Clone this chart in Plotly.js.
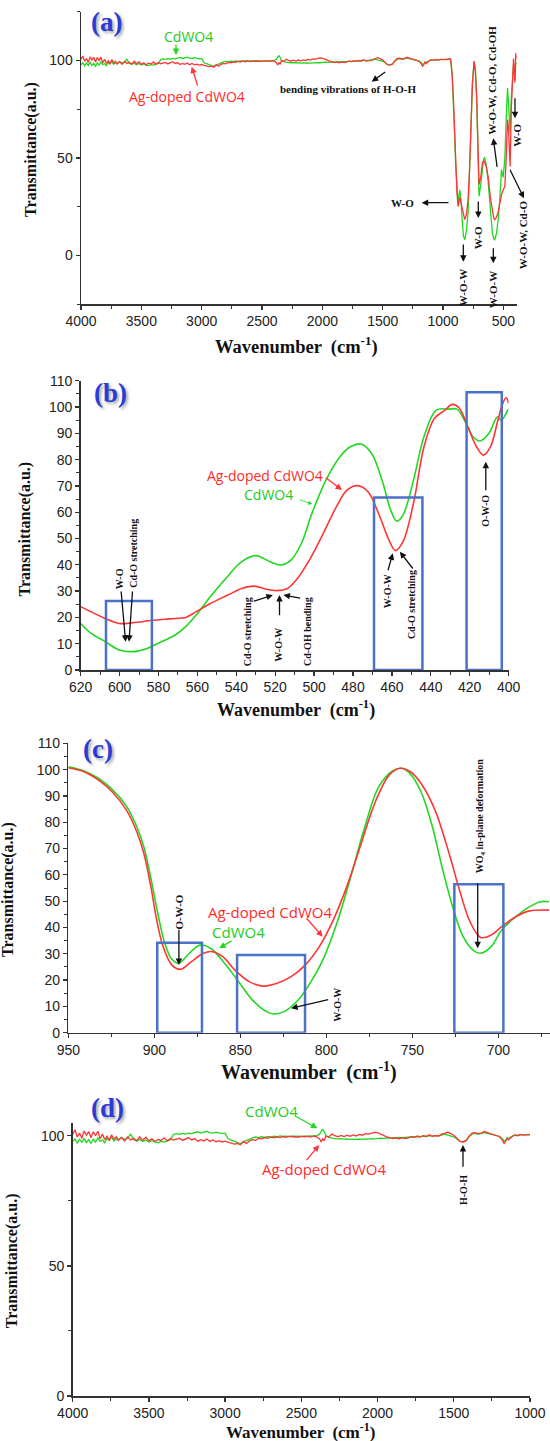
<!DOCTYPE html>
<html><head><meta charset="utf-8">
<script src="https://cdn.plot.ly/plotly-3.0.1.min.js"></script>
<style>html,body{margin:0;padding:0;background:#fff}#plot{width:550px;height:1441px}</style>
</head><body><div id="plot"></div>
<script>
// ---------- DATA ----------
// Panels (a) and (d): wavenumber grid 4000 -> 1000 cm-1
const wnHi = [4000,3985,3970,3955,3940,3925,3910,3895,3880,3865,3850,3835,3820,3805,3790,3775,3760,3745,3730,3715,3700,
3680,3660,3640,3620,3600,3580,3560,3540,3520,3500,3480,3460,3440,3420,3400,3380,3360,3340,3320,3300,3280,3260,3240,3220,3200,3180,3160,3140,3120,3100,3080,3060,3040,3020,3000,2980,2960,2940,2920,2900,2880,2860,2840,2820,2800,2780,2760,2740,2720,2700,2680,2660,2640,2620,2600,2580,2560,2540,2520,2500,2480,2460,2440,2420,2400,
2380,2370,2360,2350,2340,
2320,2300,2280,2260,2240,2220,2200,2180,2160,2140,2120,2100,2080,2060,2040,2020,2000,1980,1960,1940,1920,1900,1880,1860,1840,1820,1800,1780,1760,1740,1720,1700,1680,1660,1640,1620,1600,1580,1560,1540,1520,1500,1480,1460,1440,1420,1400,1380,1360,1340,1320,1300,1280,1260,1240,1220,1200,1180,
1170,1160,1150,1140,
1120,1100,1080,1060,1040,1020,1000];
const agHi = [100.5,102.3,99.5,101.0,99.0,101.8,100.2,101.6,99.2,101.5,100.0,101.7,98.8,100.6,98.5,99.8,98.2,100.4,98.6,99.6,98.4,
99.3,98.0,99.5,98.4,99.0,98.1,99.6,98.3,99.4,98.0,98.8,97.8,98.6,98.2,99.2,98.0,98.9,98.3,98.6,99.0,98.2,98.8,99.3,98.4,98.9,97.9,98.5,98.0,98.7,97.8,98.4,97.7,98.1,97.6,97.9,97.5,97.2,96.8,97.0,96.5,97.8,97.0,98.0,98.5,98.2,99.0,98.8,99.3,99.0,99.5,99.2,99.6,99.3,99.7,99.4,99.8,99.5,99.7,99.4,99.8,99.6,99.8,99.5,99.9,99.6,
98.8,97.6,98.9,98.0,99.8,
99.5,100.6,100.0,99.6,100.1,99.7,100.2,99.8,100.3,99.9,100.5,100.2,100.8,100.6,101.0,101.3,101.2,100.6,100.2,99.6,99.3,98.9,99.2,98.8,99.3,98.9,99.1,99.6,99.4,99.8,99.6,100.0,99.7,100.4,99.8,100.0,99.9,100.6,100.9,101.4,100.8,100.2,99.0,97.8,97.6,98.0,99.8,101.0,101.2,100.8,101.0,101.6,101.2,100.8,100.5,100.2,99.6,98.2,
97.0,97.8,99.0,98.4,
99.6,100.2,100.0,100.5,100.2,100.4,100.3];
const cdHi = [97.8,98.8,97.2,98.6,97.5,99.0,97.4,98.5,97.0,98.7,97.6,99.2,97.8,98.4,97.3,99.0,98.2,99.5,98.0,98.8,98.1,
99.4,98.6,99.0,100.6,98.5,98.0,98.6,97.8,98.4,97.6,98.2,97.5,97.3,97.8,97.6,98.0,98.4,100.4,100.8,100.5,100.9,100.6,101.0,100.8,101.2,101.5,101.0,101.3,101.7,101.2,101.0,101.4,101.0,100.8,101.0,98.8,98.3,97.8,97.4,97.0,97.6,98.2,98.7,99.2,99.5,99.3,99.6,99.4,99.7,99.5,99.8,99.6,99.9,99.7,99.8,99.6,99.9,99.7,99.8,99.6,99.8,99.7,99.9,99.8,100.0,
100.6,101.8,102.4,101.6,100.2,
99.4,99.0,98.9,98.8,98.9,98.7,98.8,98.6,98.7,98.6,98.7,98.6,98.8,98.7,98.9,98.8,99.0,99.1,99.0,99.2,99.1,99.3,99.2,99.4,99.3,99.4,99.5,99.6,99.5,99.7,99.6,99.8,99.7,100.0,99.8,100.0,99.9,100.3,100.6,100.2,100.0,99.6,98.8,97.8,97.7,98.2,99.5,100.6,100.9,100.6,100.8,101.2,100.9,100.6,100.3,100.0,99.8,98.8,
98.0,98.2,99.2,99.0,
99.8,100.3,100.1,100.4,100.3,100.5,100.5];
// Panel (a) fingerprint region below 1000 cm-1
const wnLo = [980,960,945,937,925,914,905,895,885,876,868,860,852,845,832,820,806,793,782,771,757,743,732,721,711,702,688,674,664,655,641,627,609,591,580,572,558,544,530,516,502,488,477,466,459,453,448,444,435,425,416,410,405,400,397,392];
const agLo = [100.4,100.6,100.9,100.5,93,80,63,45.6,32,25,28,30,27,25,20,18.3,21,28.6,42,62.8,88,99.5,94,80,55,36.3,40,47.4,48.5,47.9,45,40.5,30,21.9,19,18.3,19.5,22,27,31,33.5,35.4,50,69.6,66,59,52,45.6,75,93.5,101,95,88.5,98,103.8,101];
const cdLo = [100.2,100.5,100.8,100.3,93,80,63,46,33,27,31,33.5,28,20,10,8,13,21.8,38,61,88,99.5,95,80,52,30.3,36,45,49.5,50,46,38,22,11,8.5,8,11,18,28.6,44,40,50,70,85.8,79,71,66,63,80,92,98,94,90,96,99,98];

// Panel (b): 620 -> 400 cm-1
const wnB_ag = [620,607.4,600.2,593,584,576.8,571.4,566,560.6,553.3,544.3,537.2,530.8,524.5,519.1,513.7,509.2,502.9,495.7,488.5,483.1,477.7,472.3,466.9,461.5,458.2,454.3,448.9,443.5,438.1,432.7,429,425.5,421,416.5,412.9,409.3,405.7,403,401.2,400];
const agB = [24.1,19.6,17.7,18,18.8,19.3,19.6,20,22.2,25.3,28.5,31,31.9,30.7,30.2,31,34.2,41.2,51.3,62.1,68.4,70.1,67.8,59.6,49.4,45.4,48.8,63.4,84.9,95.7,98.8,101,99.7,92.5,84.9,81.7,84.9,94.4,101.4,103.5,101.4];
const wnB_cd = [620,614.6,607.4,600.2,593,585.8,580.4,571.4,566,560.6,553.3,546.1,537.2,530,522.7,517.3,511.9,506.5,501.1,493.9,486.7,481.3,475.9,470.5,465.1,460.6,457.5,454.3,448.9,443.5,437.2,430.9,426.4,421.9,418.3,414.6,410.1,405.7,403.8,400.2];
const cdB = [17.7,13.9,10.8,7.6,7.0,8.2,10.1,13.3,16.5,20.9,27.9,34.2,41.2,43.5,41.2,39.9,41.8,48.2,59.6,72.2,81.1,84.9,85.9,82.4,72.2,60.8,56.6,58.9,72.2,88.7,98.8,99.2,99.1,93.8,88.7,87.1,90,96.3,95,99.2];
const boxB_from = [607, 469.2, 421.6];
const boxB_to   = [583.4, 444.3, 403.5];
const boxB_top  = [26.2, 65.6, 105.6];

// Panel (c): 950 -> 670 cm-1
const wnC_ag = [950,940.8,932.6,924.5,916.3,910.2,906.1,902,899,894.9,889.8,884.7,878.5,871.4,866.3,860.2,853.1,844.9,836.7,828.6,820.5,812.3,804.1,796,787.8,779.7,771.5,763.4,757.2,751.1,745,736.9,728.7,722.6,716.5,710.3,704.2,698.1,689.9,681.8,670.6];
const agC = [100.7,99.2,96.1,91.6,84.7,76.4,68.2,55.5,44.1,32.7,25.7,24.1,27,30.2,30.8,28.9,23.8,19.4,17.7,18.8,21.3,25.7,32.7,42.8,56.1,72,87.8,98,100.5,99.2,94.8,84.7,68.2,54.2,42.2,36.2,37.1,40.3,44.1,46.3,46.6];
const wnC_cd = [950,940.8,932.6,924.5,916.3,910.2,906.1,902,898,893.9,889.8,885.7,879.6,873.5,867.3,859.2,851,842.9,834.7,830.6,824.5,816.4,810.2,802.1,793.9,785.8,777.6,769.5,761.3,756.2,751.1,745,738.9,732.8,726.6,720.5,714.4,710.3,704.2,698.1,689.9,681.8,675.6,670.6];
const cdC = [101.1,99.5,96.7,92.5,86.2,78.3,70.7,58.7,45.4,34,27.9,26.4,30.2,33.3,32.1,26.4,19.4,12.4,8,7.1,8,12.4,18.1,27.6,41.6,59.3,78.3,93.5,99.6,100.5,98.3,91.6,79.6,63.1,47.9,36.5,31.2,30.2,32.7,39,44.1,47.9,49.8,49.8];
const boxC_from = [898.3, 851.9, 725.6];
const boxC_to   = [872.3, 812.4, 697.1];
const boxC_top  = [34.2, 29.5, 56.4];

const seriesNames = ['CdWO4', 'Ag-doped CdWO4'];

// ---------- STYLE ----------
const W = 550, H = 1441;
const GREEN = '#1fd81f', RED = '#ff3535', BLUE = '#4a72c8';
const px = v => v / W, py = v => 1 - v / H;

const base = {
  showline: true, linecolor: '#333', linewidth: 1.5, mirror: false,
  ticks: 'outside', ticklen: 4, tickwidth: 1.3, tickcolor: '#333',
  showgrid: false, zeroline: false, tickmode: 'linear', fixedrange: true,
  ticklabelstandoff: 0,
  tickfont: {family: 'Liberation Sans, Arial, sans-serif', size: 14, color: '#222'}
};
const minor = d => ({dtick: d, ticks: 'outside', ticklen: 3, tickwidth: 1, tickcolor: '#333'});
const ax = e => Object.assign({}, base, e);

const layout = {
  width: W, height: H, margin: {l: 0, r: 0, t: 0, b: 0},
  paper_bgcolor: '#fff', plot_bgcolor: 'rgba(0,0,0,0)', showlegend: false,
  xaxis:  ax({domain: [px(81), px(516.7)], range: [4000, 390], tick0: 0, dtick: 500, minor: minor(250), anchor: 'y'}),
  yaxis:  ax({domain: [py(304), py(11.7)], range: [-25, 125], tick0: 0, dtick: 50, minor: minor(25), anchor: 'x'}),
  xaxis2: ax({domain: [px(80.7), px(508.6)], range: [620, 400], tick0: 0, dtick: 20, minor: minor(10), anchor: 'y2'}),
  yaxis2: ax({domain: [py(670), py(380.7)], range: [0, 110], tick0: 0, dtick: 10, minor: minor(5), anchor: 'x2'}),
  xaxis3: ax({domain: [px(68.3), 1], range: [950, 670], tick0: 0, dtick: 50, minor: minor(25), anchor: 'y3'}),
  yaxis3: ax({domain: [py(1032.7), py(743.3)], range: [0, 110], tick0: 0, dtick: 10, minor: minor(5), anchor: 'x3'}),
  xaxis4: ax({domain: [px(72.7), px(530)], range: [4000, 1000], tick0: 0, dtick: 500, minor: minor(250), anchor: 'y4'}),
  yaxis4: ax({domain: [py(1396), py(1122.7)], range: [0, 105], tick0: 0, dtick: 50, minor: minor(25), anchor: 'x4'}),
  shapes: [], annotations: []
};

// boxes
function boxes(from, to, top, xr, yr) {
  from.forEach((f, i) => layout.shapes.push({type: 'rect', xref: xr, yref: yr, x0: f, x1: to[i], y0: 0, y1: top[i],
    line: {color: BLUE, width: 2.5}, fillcolor: 'rgba(0,0,0,0)', layer: 'above'}));
}
boxes(boxB_from, boxB_to, boxB_top, 'x2', 'y2');
boxes(boxC_from, boxC_to, boxC_top, 'x3', 'y3');

// annotations
const SERIF = 'Liberation Serif, Times New Roman, serif';
const SANS = 'Open Sans, Liberation Sans, sans-serif';
function txt(x, y, text, o) {
  o = o || {};
  layout.annotations.push({xref: 'paper', yref: 'paper', x: px(x), y: py(y), text: text, showarrow: false,
    xanchor: 'center', yanchor: 'middle', textangle: o.angle || 0,
    font: {family: o.family || SERIF, size: o.size || 11, color: o.color || '#111', weight: o.weight || 'bold'}});
}
function arr(hx, hy, tx, ty, color, w) {
  layout.annotations.push({xref: 'paper', yref: 'paper', x: px(hx), y: py(hy), ax: tx - hx, ay: ty - hy,
    text: '', showarrow: true, arrowhead: 2, arrowsize: 1, arrowwidth: w || 1.3, arrowcolor: color || '#111', standoff: 0});
}
function panel(x, y, t) {
  layout.annotations.push({xref: 'paper', yref: 'paper', x: px(x), y: py(y), text: t, showarrow: false,
    xanchor: 'center', yanchor: 'middle',
    font: {family: SERIF, size: 27, color: '#2b3bd6', weight: 'bold', shadow: '2px 2px 3px rgba(0,0,0,0.35)'}});
}
const gT = (x, y, s) => txt(x, y, seriesNames[0], {family: SANS, size: s, color: '#22cc22', weight: 'normal'});
const rT = (x, y, s) => txt(x, y, seriesNames[1], {family: SANS, size: s, color: '#ff2a2a', weight: 'normal'});
const V = -90;

// axis titles
const xt = 'Wavenumber  (cm<sup>-1</sup>)', yt = 'Transmittance(a.u.)';
[[296, 345, 18.5], [296, 709, 18], [309, 1071, 20], [300, 1431, 17]].forEach(p => txt(p[0], p[1], xt, {size: p[2]}));
[[30.9, 149], [24.6, 529], [8, 890], [12.3, 1261]].forEach(p => txt(p[0], p[1], yt, {size: 16, angle: V}));

// panel (a)
panel(106.7, 21.7, '(a)');
gT(188, 36.7, 14); arr(176, 55, 176, 43, GREEN, 1.3);
rT(186.7, 96.7, 14); arr(191.7, 66.7, 198, 87, RED, 1.3);
txt(348.3, 89.3, 'bending vibrations of H-O-H', {size: 11});
arr(371.7, 81.7, 386.7, 71);
txt(402.3, 203.3, 'W-O', {size: 11}); arr(421.7, 202.7, 450, 202.7);
txt(463.3, 288, 'W-O-W', {size: 11, angle: V}); arr(463.3, 261.7, 463.3, 243);
txt(478.3, 238, 'W-O', {size: 11, angle: V}); arr(478.3, 218, 478.3, 200);
txt(493.3, 290, 'W-O-W', {size: 11, angle: V}); arr(493.3, 263.3, 493.3, 246.7);
txt(491.7, 80, 'W-O-W, Cd-O, Cd-OH', {size: 11, angle: V}); arr(493.3, 138.3, 497.3, 168.3);
txt(516.7, 135, 'W-O', {size: 11, angle: V}); arr(515, 118.3, 515, 96.7);
txt(523.3, 235, 'W-O-W, Cd-O', {size: 11, angle: V}); arr(524, 198.3, 509.3, 168.3);

// panel (b)
panel(110.5, 393.3, '(b)');
rT(264.8, 475, 14); arr(342, 490, 324.4, 476.7, RED, 1.3);
gT(268.3, 494, 14); arr(312.2, 504, 298, 499.3, GREEN, 0.8);
txt(119.3, 579, 'W-O', {size: 10, angle: V});
txt(133.3, 553.5, 'Cd-O stretching', {size: 10, angle: V});
arr(125.6, 641.7, 121, 590); arr(129, 641.7, 132.6, 590);
txt(247.3, 632, 'Cd-O stretching', {size: 10, angle: V}); arr(272.9, 595, 252.5, 601.7);
txt(278.8, 645, 'W-O-W', {size: 10, angle: V}); arr(279.5, 595, 279.5, 616.7);
txt(307, 632, 'Cd-OH bending', {size: 10, angle: V}); arr(283.4, 595, 301.6, 598.3);
txt(387.6, 591.7, 'W-O-W', {size: 10, angle: V}); arr(392.8, 553.3, 387.6, 571.7);
txt(412.1, 605, 'Cd-O stretching', {size: 10, angle: V}); arr(399.9, 551.7, 413.9, 570);
txt(485.8, 511, 'O-W-O', {size: 10, angle: V}); arr(485.8, 461.7, 485.8, 491.7);

// panel (c)
panel(97.5, 749.3, '(c)');
txt(178.9, 911.7, 'O-W-O', {size: 11, angle: V}); arr(178.9, 965, 178.9, 928.3);
rT(270, 911.7, 15); arr(322.7, 936.7, 305.2, 916.7, RED, 1.3);
gT(238.5, 931.7, 15); arr(219.2, 948.3, 233, 940, GREEN, 1.3);
txt(336.7, 1005, 'W-O-W', {size: 10, angle: V}); arr(291.1, 1008.3, 329.7, 999.3);
txt(480.5, 816.7, 'WO<sub>4</sub> in-plane deformation', {size: 10, angle: V}); arr(477.7, 948.3, 477.7, 881.7);

// panel (d)
panel(107, 1108.3, '(d)');
gT(271.8, 1110.7, 15); arr(317.4, 1128.3, 294.6, 1115.7, GREEN, 1.3);
rT(324.4, 1169.3, 15); arr(319.2, 1145, 305.2, 1161.7, RED, 1.3);
txt(463, 1190, 'H-O-H', {size: 10, angle: V}); arr(463, 1145, 463, 1168.3);

// ---------- TRACES ----------
const ln = (x, y, c, xa, ya, w, shape) => ({type: 'scatter', mode: 'lines', x: x, y: y, xaxis: xa, yaxis: ya,
  line: {color: c, width: w, shape: shape || 'linear'}, hoverinfo: 'skip'});
const data = [
  ln(wnHi.concat(wnLo), cdHi.concat(cdLo), GREEN, 'x', 'y', 1.3),
  ln(wnHi.concat(wnLo), agHi.concat(agLo), RED, 'x', 'y', 1.3),
  ln(wnB_cd, cdB, GREEN, 'x2', 'y2', 1.6, 'spline'),
  ln(wnB_ag, agB, RED, 'x2', 'y2', 1.6, 'spline'),
  ln(wnC_cd, cdC, GREEN, 'x3', 'y3', 1.6, 'spline'),
  ln(wnC_ag, agC, RED, 'x3', 'y3', 1.6, 'spline'),
  ln(wnHi, cdHi, GREEN, 'x4', 'y4', 1.3),
  ln(wnHi, agHi, RED, 'x4', 'y4', 1.3)
];

Plotly.newPlot('plot', data, layout, {staticPlot: true, displayModeBar: false});
</script>
</body></html>
